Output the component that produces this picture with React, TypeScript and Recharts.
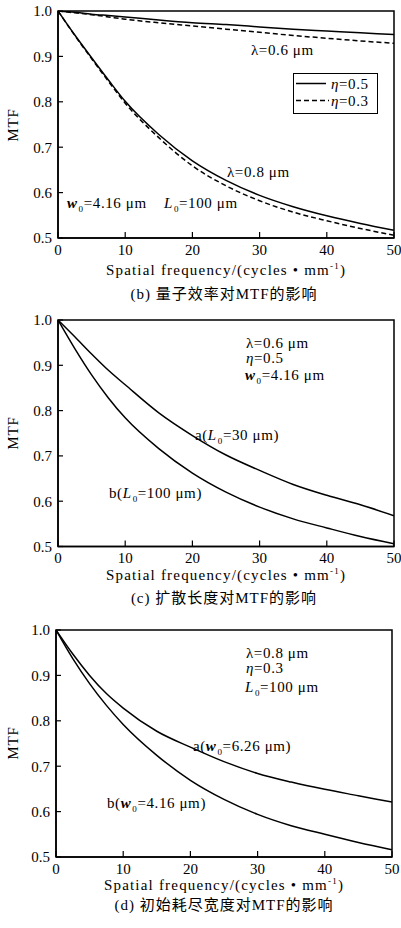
import React from 'react';
import { LineChart, Line, XAxis, YAxis, ReferenceArea, Legend } from 'recharts';

// ---------- data ----------
const freq = [0, 2.5, 5, 7.5, 10, 15, 20, 25, 30, 35, 40, 45, 50];
const xTicks = [0, 10, 20, 30, 40, 50];
const yTicks = [0.5, 0.6, 0.7, 0.8, 0.9, 1.0];

// (b) quantum efficiency
const b_l06_eta05 = [1.0, 0.997, 0.993, 0.99, 0.987, 0.98, 0.974, 0.97, 0.965, 0.96, 0.956, 0.952, 0.948];
const b_l06_eta03 = [1.0, 0.996, 0.992, 0.987, 0.982, 0.974, 0.967, 0.96, 0.953, 0.946, 0.94, 0.934, 0.929];
const b_l08_eta05 = [1.0, 0.947, 0.897, 0.848, 0.801, 0.728, 0.67, 0.627, 0.594, 0.569, 0.549, 0.532, 0.517];
const b_l08_eta03 = [1.0, 0.946, 0.895, 0.845, 0.797, 0.721, 0.659, 0.615, 0.582, 0.557, 0.538, 0.521, 0.506];

// (c) diffusion length
const c_a_L30 = [1.0, 0.963, 0.925, 0.889, 0.857, 0.795, 0.745, 0.702, 0.668, 0.637, 0.613, 0.592, 0.568];
const c_b_L100 = [1.0, 0.937, 0.879, 0.828, 0.784, 0.716, 0.662, 0.62, 0.587, 0.561, 0.541, 0.522, 0.506];

// (d) initial depletion width
const d_a_w626 = [1.0, 0.947, 0.9, 0.86, 0.828, 0.777, 0.742, 0.71, 0.684, 0.665, 0.649, 0.635, 0.621];
const d_b_w416 = [1.0, 0.937, 0.882, 0.834, 0.792, 0.724, 0.669, 0.627, 0.594, 0.569, 0.55, 0.532, 0.516];

const xLabelText = 'Spatial frequency/(cycles • mm';
const captionB = '(b) 量子效率对MTF的影响';
const captionC = '(c) 扩散长度对MTF的影响';
const captionD = '(d) 初始耗尽宽度对MTF的影响';

// ---------- helpers ----------
const FONT = '"Liberation Serif", "Times New Roman", "DejaVu Serif", "Noto Sans CJK SC", serif';
const tickStyle = { fontFamily: FONT, fontSize: 15, fill: '#000' };

type Series = { key: string; values: number[]; name: string; dashed?: boolean };

const buildData = (series: Series[]) =>
  freq.map((f, i) => {
    const row: Record<string, number> = { x: f };
    series.forEach((s) => (row[s.key] = s.values[i]));
    return row;
  });

const Sub0 = () => (
  <span style={{ fontSize: 9, position: 'relative', top: 4, fontStyle: 'normal', fontWeight: 'normal', marginLeft: 1 }}>0</span>
);
const W = () => <span style={{ fontStyle: 'italic', fontWeight: 'bold' }}>w</span>;
const L = () => <span style={{ fontStyle: 'italic' }}>L</span>;
const Eta = () => <span style={{ fontStyle: 'italic' }}>η</span>;

const Ann: React.FC<{ x: number; y: number; children: React.ReactNode }> = ({ x, y, children }) => (
  <div
    style={{
      position: 'absolute',
      left: x,
      top: y - 8,
      lineHeight: '16px',
      fontFamily: FONT,
      fontSize: 15,
      whiteSpace: 'nowrap',
      letterSpacing: 0.6,
      color: '#000',
    }}
  >
    {children}
  </div>
);

const Centered: React.FC<{ cx: number; cy: number; children: React.ReactNode; spacing?: number }> = ({
  cx,
  cy,
  children,
  spacing = 0.8,
}) => (
  <div
    style={{
      position: 'absolute',
      left: cx - 160,
      width: 320,
      top: cy - 8,
      lineHeight: '16px',
      textAlign: 'center',
      fontFamily: FONT,
      fontSize: 15,
      whiteSpace: 'nowrap',
      letterSpacing: spacing,
      color: '#000',
    }}
  >
    {children}
  </div>
);

const YLab: React.FC<{ cy: number }> = ({ cy }) => (
  <div
    style={{
      position: 'absolute',
      left: 13 - 50,
      top: cy - 8,
      width: 100,
      lineHeight: '16px',
      textAlign: 'center',
      fontFamily: FONT,
      fontSize: 15,
      letterSpacing: 0.8,
      transform: 'rotate(-90deg)',
    }}
  >
    MTF
  </div>
);

const XLab: React.FC<{ cx: number; cy: number }> = ({ cx, cy }) => (
  <Centered cx={cx} cy={cy} spacing={1.2}>
    {xLabelText}
    <sup style={{ fontSize: 9, verticalAlign: 0, position: 'relative', top: -6 }}>-1</sup>)
  </Centered>
);

const LegendBox = (props: any) => {
  const payload = (props.payload || []) as any[];
  const seen: Record<string, boolean> = {};
  const items = payload
    .filter((p) => {
      if (seen[p.value]) return false;
      seen[p.value] = true;
      return true;
    })
    .map((p) => ({ value: String(p.value), dashed: !!(p.payload && p.payload.strokeDasharray) }))
    .sort((a, b) => Number(a.dashed) - Number(b.dashed));
  return (
    <div
      style={{
        width: 85,
        height: 41,
        border: '1.5px solid #000',
        boxSizing: 'border-box',
        background: '#fff',
        position: 'relative',
        fontFamily: FONT,
        fontSize: 15,
        color: '#000',
      }}
    >
      {items.map((it, i) => (
        <div key={i} style={{ position: 'absolute', left: 0, top: 2 + i * 17, height: 16, width: 84 }}>
          <svg width={40} height={16} style={{ position: 'absolute', left: 0, top: 0 }}>
            <line
              x1={2}
              x2={it.dashed ? 35 : 32}
              y1={7.5}
              y2={7.5}
              stroke="#000"
              strokeWidth={1.5}
              strokeDasharray={it.dashed ? '5 3' : undefined}
            />
          </svg>
          <div style={{ position: 'absolute', left: 37, top: 0, lineHeight: '16px', letterSpacing: 0.6, whiteSpace: 'nowrap' }}>
            <Eta />
            {it.value.replace('η', '')}
          </div>
        </div>
      ))}
    </div>
  );
};

type PanelProps = {
  top: number;
  plotTop: number;
  plotBottom: number;
  yAxisWidth: number;
  rightMargin: number;
  series: Series[];
  legend?: boolean;
};

const Panel: React.FC<PanelProps> = ({ top, plotTop, plotBottom, yAxisWidth, rightMargin, series, legend }) => {
  const data = buildData(series);
  const height = plotBottom - top + 30;
  return (
    <div style={{ position: 'absolute', left: 0, top }}>
      <LineChart
        width={401}
        height={height}
        data={data}
        margin={{ top: plotTop - top, right: rightMargin, left: 0, bottom: 0 }}
      >
        <XAxis
          dataKey="x"
          type="number"
          domain={[0, 50]}
          ticks={xTicks}
          height={30}
          tickSize={-6}
          tickMargin={12}
          axisLine={{ stroke: '#000', strokeWidth: 1.5 }}
          tickLine={{ stroke: '#000', strokeWidth: 1.2 }}
          tick={tickStyle}
          interval={0}
          allowDataOverflow
        />
        <YAxis
          type="number"
          domain={[0.5, 1.0]}
          ticks={yTicks}
          width={yAxisWidth}
          tickSize={-5}
          tickMargin={11}
          tickFormatter={(v: number) => v.toFixed(1)}
          axisLine={{ stroke: '#000', strokeWidth: 1.5 }}
          tickLine={{ stroke: '#000', strokeWidth: 1.2 }}
          tick={tickStyle}
          interval={0}
          allowDataOverflow
        />
        <ReferenceArea
          x1={0}
          x2={50}
          y1={0.5}
          y2={1.0}
          fill="none"
          fillOpacity={0}
          stroke="#000"
          strokeWidth={1.5}
          ifOverflow="visible"
        />
        {series.map((s) => (
          <Line
            key={s.key}
            dataKey={s.key}
            name={s.name}
            type="monotone"
            stroke="#000"
            strokeWidth={1.5}
            strokeDasharray={s.dashed ? '5 3' : undefined}
            dot={false}
            activeDot={false}
            isAnimationActive={false}
            legendType={legend ? 'line' : 'none'}
          />
        ))}
        {legend && (
          <Legend
            layout="vertical"
            align="center"
            verticalAlign="middle"
            content={LegendBox}
            wrapperStyle={{ position: 'absolute', left: 293, top: 73, width: 85, height: 41 }}
          />
        )}
      </LineChart>
    </div>
  );
};

export default function App() {
  return (
    <div
      style={{
        position: 'absolute',
        left: 0,
        top: 0,
        width: 401,
        height: 928,
        overflow: 'hidden',
        background: '#fff',
        fontFamily: FONT,
      }}
    >
      {/* (b) */}
      <Panel
        top={0}
        plotTop={11}
        plotBottom={238}
        yAxisWidth={58}
        rightMargin={7}
        legend
        series={[
          { key: 's1', values: b_l06_eta05, name: 'η=0.5' },
          { key: 's2', values: b_l06_eta03, name: 'η=0.3', dashed: true },
          { key: 's3', values: b_l08_eta05, name: 'η=0.5' },
          { key: 's4', values: b_l08_eta03, name: 'η=0.3', dashed: true },
        ]}
      />
      <YLab cy={125} />
      <Ann x={251} y={50}>λ=0.6 μm</Ann>
      <Ann x={227} y={172}>λ=0.8 μm</Ann>
      <Ann x={67} y={203}>
        <W />
        <Sub0 />=4.16 μm
      </Ann>
      <Ann x={164} y={203}>
        <L />
        <Sub0 />=100 μm
      </Ann>
      <XLab cx={226} cy={270} />
      <Centered cx={224} cy={294} spacing={1}>
        {captionB}
      </Centered>

      {/* (c) */}
      <Panel
        top={300}
        plotTop={320}
        plotBottom={546.5}
        yAxisWidth={58}
        rightMargin={7}
        series={[
          { key: 'a', values: c_a_L30, name: 'a' },
          { key: 'b', values: c_b_L100, name: 'b' },
        ]}
      />
      <YLab cy={433} />
      <Ann x={246} y={343}>λ=0.6 μm</Ann>
      <Ann x={246} y={358}>
        <Eta />=0.5
      </Ann>
      <Ann x={245} y={375}>
        <W />
        <Sub0 />=4.16  μm
      </Ann>
      <Ann x={195} y={435}>
        a(<L />
        <Sub0 />=30 μm)
      </Ann>
      <Ann x={109} y={493}>
        b(<L />
        <Sub0 />=100 μm)
      </Ann>
      <XLab cx={226} cy={575} />
      <Centered cx={224} cy={598} spacing={1}>
        {captionC}
      </Centered>

      {/* (d) */}
      <Panel
        top={610}
        plotTop={630}
        plotBottom={857}
        yAxisWidth={56}
        rightMargin={9}
        series={[
          { key: 'a', values: d_a_w626, name: 'a' },
          { key: 'b', values: d_b_w416, name: 'b' },
        ]}
      />
      <YLab cy={743} />
      <Ann x={246} y={653}>λ=0.8 μm</Ann>
      <Ann x={246} y={668}>
        <Eta />=0.3
      </Ann>
      <Ann x={245} y={687}>
        <L />
        <Sub0 />=100  μm
      </Ann>
      <Ann x={193} y={746}>
        a(<W />
        <Sub0 />=6.26 μm)
      </Ann>
      <Ann x={107} y={803}>
        b(<W />
        <Sub0 />=4.16 μm)
      </Ann>
      <XLab cx={224} cy={885} />
      <Centered cx={224} cy={905} spacing={1}>
        {captionD}
      </Centered>
    </div>
  );
}
